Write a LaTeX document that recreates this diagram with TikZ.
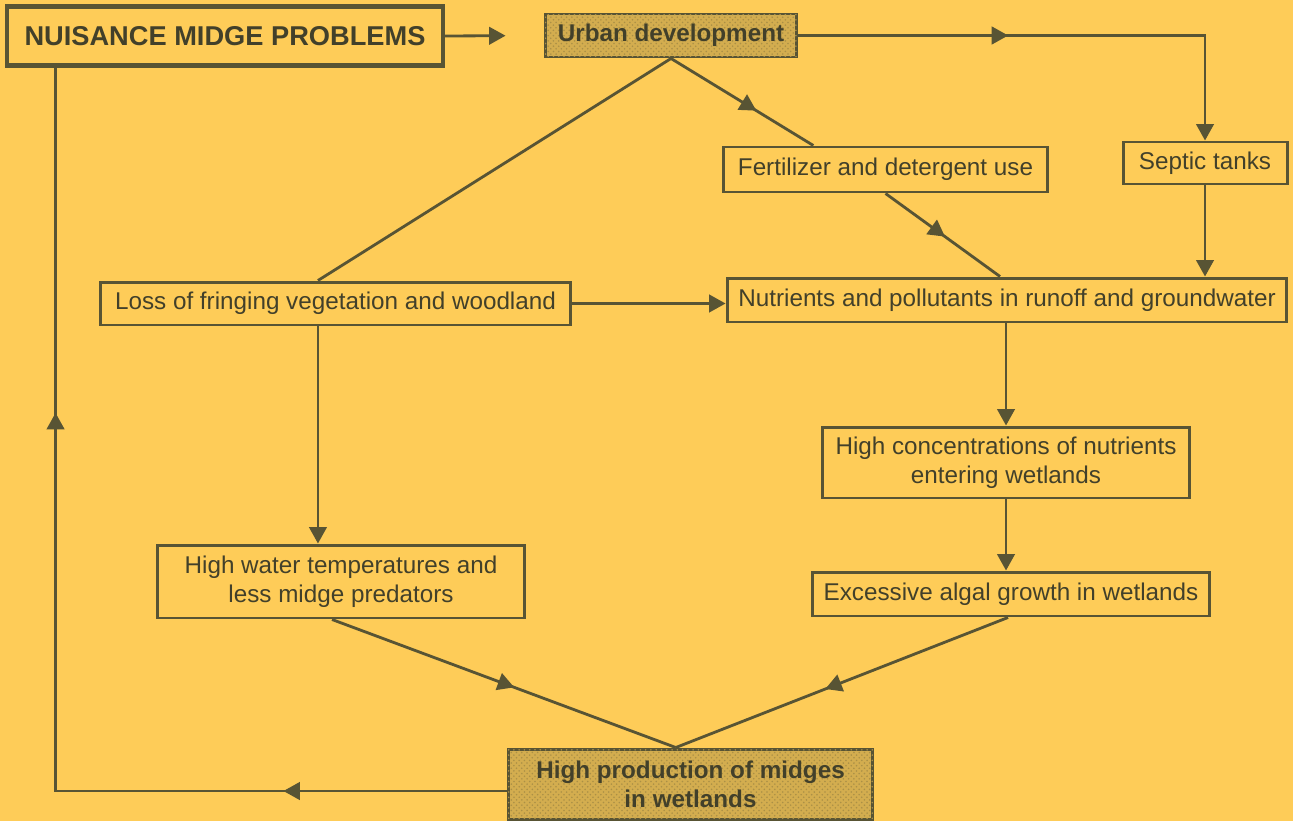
\documentclass[tikz,border=0pt]{standalone}
\usepackage{fontspec}
\setmainfont{Liberation Sans}
\usetikzlibrary{arrows.meta,calc,decorations.markings,patterns}
\definecolor{paper}{RGB}{254,204,88}
\definecolor{ink}{RGB}{88,84,52}
\definecolor{inktext}{RGB}{66,64,42}

\begin{document}
\begin{tikzpicture}[x=0.02cm,y=-0.02cm,
    >={Triangle[length=3.3mm,width=3.5mm]},
    flowbox/.style={draw=ink,line width=1.7pt,text=inktext,align=center,inner sep=0pt,
      font=\fontsize{13.8}{16.5}\selectfont},
    shadebox/.style={flowbox,fill=ink!26!paper,font=\fontsize{13.8}{16.5}\selectfont\bfseries,
      postaction={pattern=crosshatch dots,pattern color=ink!50!paper}},
    link/.style={draw=ink,line width=1.6pt},
    midtip/.style={postaction={decorate},decoration={markings,
      mark=at position #1 with {\arrow{>}}}}]

    \useasboundingbox (0,0) rectangle (1293,821);
    \fill[paper] (0,0) rectangle (1293,821);

    % boxes
    \node[flowbox,line width=2.4pt,minimum width=8.72cm,minimum height=1.18cm,
      font=\fontsize{15.5}{18}\selectfont\bfseries] (nuisance) at (225,36) {NUISANCE MIDGE PROBLEMS};
    \node[shadebox,minimum width=5.04cm,minimum height=0.86cm] (urban) at (671,35.5) {Urban development};
    \node[flowbox,minimum width=3.28cm,minimum height=0.84cm] (septic) at (1205,163) {Septic tanks};
    \node[flowbox,minimum width=6.5cm,minimum height=0.9cm] (fert) at (885.5,169.5) {Fertilizer and detergent use};
    \node[flowbox,minimum width=9.42cm,minimum height=0.86cm] (loss) at (335.5,303.5) {Loss of fringing vegetation and woodland};
    \node[flowbox,minimum width=11.2cm,minimum height=0.88cm] (nutr) at (1007,300) {Nutrients and pollutants in runoff and groundwater};
    \node[flowbox,minimum width=7.36cm,minimum height=1.42cm] (conc) at (1006,462.5) {High concentrations of nutrients\\entering wetlands};
    \node[flowbox,minimum width=7.96cm,minimum height=0.88cm] (algal) at (1011,594) {Excessive algal growth in wetlands};
    \node[flowbox,minimum width=7.36cm,minimum height=1.46cm] (water) at (341,581.5) {High water temperatures and\\less midge predators};
    \node[shadebox,minimum width=7.3cm,minimum height=1.4cm] (prod) at (690.5,784) {High production of midges\\in wetlands};

    % helper points
    \coordinate (lossfoot) at ($(loss.south west)!0.463!(loss.south east)$);
    \coordinate (meet) at ($(prod.north west)!0.46!(prod.north east)$);
    \coordinate (back) at ($(prod.west)+(0,7)$);
    \coordinate (nfoot) at ($(nuisance.south west)!0.115!(nuisance.south east)$);

    % connectors
    \draw[link,->,shorten >=7.6mm] (nuisance.east) -- (urban.west);
    \draw[link,->,midtip=0.41] (urban.east) -- (urban.east -| septic.north) -- (septic.north);
    \draw[link,midtip=0.6] (urban.south) -- ($(fert.north west)!0.28!(fert.north east)$);
    \draw[link] (urban.south) -- ($(loss.north west)!0.463!(loss.north east)$);
    \draw[link,->] (loss.east) -- (loss.east -| nutr.west);
    \draw[link,midtip=0.52] (fert.south) -- ($(nutr.north)+(-7,0)$);
    \draw[link,->] (septic.south) -- (septic.south |- nutr.north);
    \draw[link,->] (conc.north |- nutr.south) -- (conc.north);
    \draw[link,->] (conc.south) -- (conc.south |- algal.north);
    \draw[link,->] (lossfoot) -- (lossfoot |- water.north);
    \draw[link,midtip=0.53] ($(water.south)+(-9,0)$) -- (meet);
    \draw[link,midtip=0.55] ($(algal.south)+(-3,0)$) -- (meet);
    \draw[link,postaction={decorate},decoration={markings,
      mark=at position 0.19 with {\arrow{>}},
      mark=at position 0.706 with {\arrow{>}}}]
      (back) -- (back -| nfoot) -- (nfoot);
\end{tikzpicture}
\end{document}
